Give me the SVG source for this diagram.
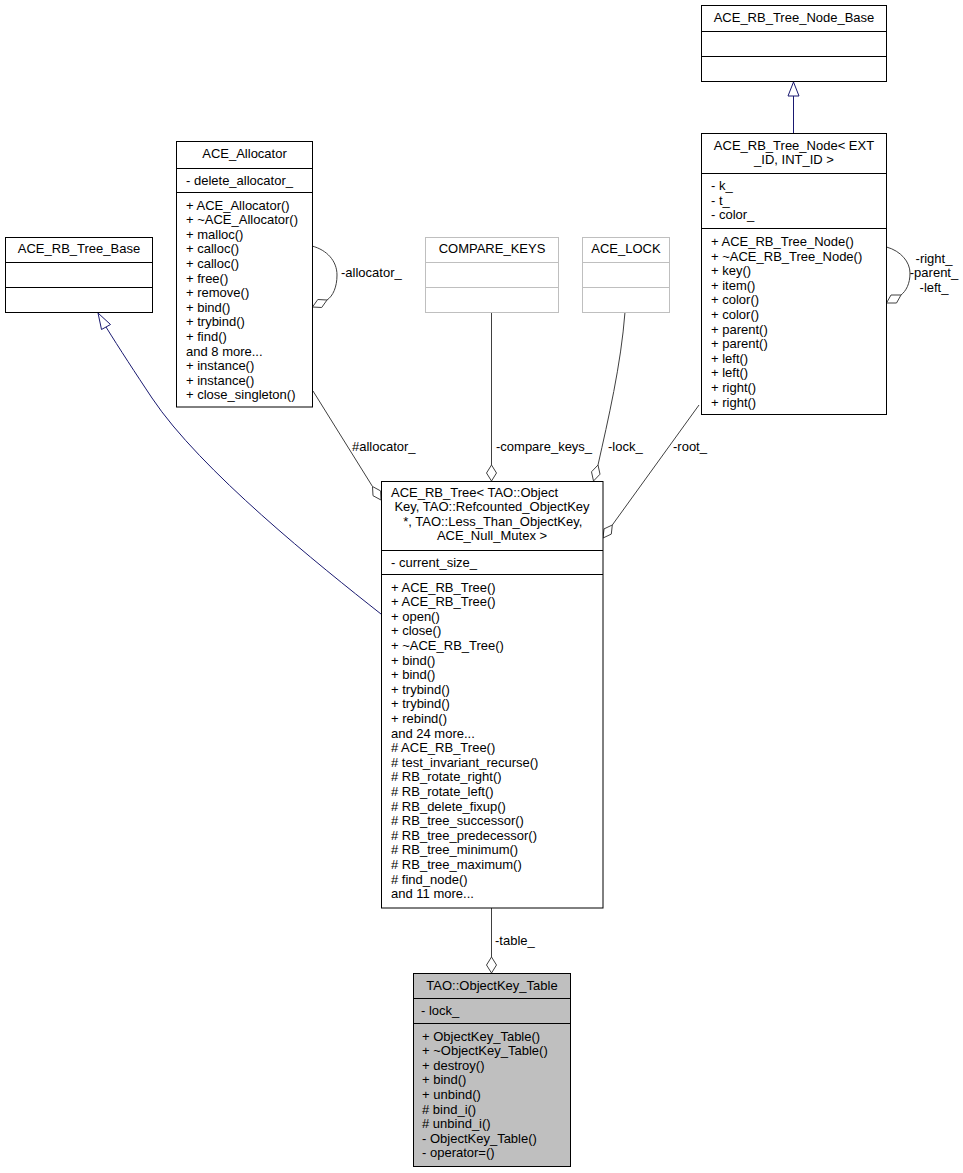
<svg xmlns="http://www.w3.org/2000/svg" width="963" height="1173" viewBox="0 0 963 1173">
<style>
text{font-family:"Liberation Sans",Arial,sans-serif;font-size:13px;fill:#000}
.c{text-anchor:middle}
.box{fill:#fff;stroke:#000;stroke-width:1}
.gbox{fill:#fff;stroke:#bfbfbf;stroke-width:1}
.hl{fill:#bfbfbf;stroke:#000;stroke-width:1}
.sep{stroke:#000;stroke-width:1}
.gsep{stroke:#bfbfbf;stroke-width:1}
.agg{fill:none;stroke:#404040;stroke-width:1}
.dia{fill:#fff;stroke:#404040;stroke-width:1}
.inh{fill:none;stroke:#191970;stroke-width:1}
.tri{fill:#fff;stroke:#191970;stroke-width:1}
</style>
<rect width="963" height="1173" fill="#fff"/>
<g id="connectors">
  <path class="inh" d="M381,614 C320,566 200,470 152,398 C136,374 119,348 106,327"/>
  <polygon class="tri" points="98,313 101.5,329.5 110.5,324.5"/>
  <path class="inh" d="M793.5,133.5 L793.5,96"/>
  <polygon class="tri" points="793.5,82 788,96 799,96"/>
  <path class="agg" d="M312,246 C327,250 337,261 337,275 C337,287 333,296 327,300"/>
  <polygon class="dia" points="312.5,307 317.8,299.5 327,300 321.7,307.5"/>
  <path class="agg" d="M886.5,247 C901,251 910,262 910,273 C910,284 906,291 901,295"/>
  <polygon class="dia" points="886.5,303 891,295 901,295 896.5,303"/>
  <path class="agg" d="M313,391 L372.5,486.5"/>
  <polygon class="dia" points="381,500 380.6,490.9 372.5,486.5 373,495.7"/>
  <path class="agg" d="M491.5,312 L491.5,465"/>
  <polygon class="dia" points="491.5,481 486.5,473 491.5,465 496.5,473"/>
  <path class="agg" d="M625,312 C621,365 608,420 598,465"/>
  <polygon class="dia" points="593.5,481 591.5,471.8 598,465 600,474.2"/>
  <path class="agg" d="M699,405 L612.3,525"/>
  <polygon class="dia" points="603,538 604,528.9 612.3,525 611.3,534.1"/>
  <path class="agg" d="M491.5,908 L491.5,957"/>
  <polygon class="dia" points="491.5,973 486.5,965 491.5,957 496.5,965"/>
  <text x="341" y="277">-allocator_</text>
  <text class="c" x="934" y="262.5">-right_</text>
  <text class="c" x="934" y="277">-parent_</text>
  <text class="c" x="934" y="291.5">-left_</text>
  <text x="352" y="451">#allocator_</text>
  <text x="496" y="451">-compare_keys_</text>
  <text x="608" y="451">-lock_</text>
  <text x="673" y="451">-root_</text>
  <text x="495" y="945">-table_</text>
</g>
<g id="ACE_RB_Tree_Node_Base">
  <rect class="box" x="701.5" y="5.5" width="185" height="76"/>
  <line class="sep" x1="701.5" y1="31.5" x2="886.5" y2="31.5"/>
  <line class="sep" x1="701.5" y1="56.5" x2="886.5" y2="56.5"/>
  <text class="c" x="794" y="22">ACE_RB_Tree_Node_Base</text>
</g>
<g id="ACE_RB_Tree_Node">
  <rect class="box" x="701.5" y="133.5" width="185" height="281"/>
  <line class="sep" x1="701.5" y1="173.5" x2="886.5" y2="173.5"/>
  <line class="sep" x1="701.5" y1="228.5" x2="886.5" y2="228.5"/>
  <text class="c" x="794" y="149.5">ACE_RB_Tree_Node&lt; EXT</text>
  <text class="c" x="794" y="164">_ID, INT_ID &gt;</text>
  <text x="711" y="190">- k_</text>
  <text x="711" y="204.6">- t_</text>
  <text x="711" y="219.2">- color_</text>
  <text x="711" y="246">+ ACE_RB_Tree_Node()</text>
  <text x="711" y="260.6">+ ~ACE_RB_Tree_Node()</text>
  <text x="711" y="275.2">+ key()</text>
  <text x="711" y="289.8">+ item()</text>
  <text x="711" y="304.4">+ color()</text>
  <text x="711" y="319">+ color()</text>
  <text x="711" y="333.6">+ parent()</text>
  <text x="711" y="348.2">+ parent()</text>
  <text x="711" y="362.8">+ left()</text>
  <text x="711" y="377.4">+ left()</text>
  <text x="711" y="392">+ right()</text>
  <text x="711" y="406.6">+ right()</text>
</g>
<g id="ACE_Allocator">
  <rect class="box" x="176.5" y="141.5" width="136" height="265.5"/>
  <line class="sep" x1="176.5" y1="168.5" x2="312.5" y2="168.5"/>
  <line class="sep" x1="176.5" y1="192.5" x2="312.5" y2="192.5"/>
  <text class="c" x="244.5" y="157.5">ACE_Allocator</text>
  <text x="186" y="184.5">- delete_allocator_</text>
  <text x="186" y="209.5">+ ACE_Allocator()</text>
  <text x="186" y="224.1">+ ~ACE_Allocator()</text>
  <text x="186" y="238.7">+ malloc()</text>
  <text x="186" y="253.3">+ calloc()</text>
  <text x="186" y="267.9">+ calloc()</text>
  <text x="186" y="282.5">+ free()</text>
  <text x="186" y="297.1">+ remove()</text>
  <text x="186" y="311.7">+ bind()</text>
  <text x="186" y="326.3">+ trybind()</text>
  <text x="186" y="340.9">+ find()</text>
  <text x="186" y="355.5">and 8 more...</text>
  <text x="186" y="370.1">+ instance()</text>
  <text x="186" y="384.7">+ instance()</text>
  <text x="186" y="399.3">+ close_singleton()</text>
</g>
<g id="ACE_RB_Tree_Base">
  <rect class="box" x="5.5" y="237.5" width="147" height="75"/>
  <line class="sep" x1="5.5" y1="262.5" x2="152.5" y2="262.5"/>
  <line class="sep" x1="5.5" y1="287.5" x2="152.5" y2="287.5"/>
  <text class="c" x="79" y="253">ACE_RB_Tree_Base</text>
</g>
<g id="COMPARE_KEYS">
  <rect class="gbox" x="425.5" y="237.5" width="133" height="75"/>
  <line class="gsep" x1="425.5" y1="262.5" x2="558.5" y2="262.5"/>
  <line class="gsep" x1="425.5" y1="287.5" x2="558.5" y2="287.5"/>
  <text class="c" x="492" y="253">COMPARE_KEYS</text>
</g>
<g id="ACE_LOCK">
  <rect class="gbox" x="582.5" y="237.5" width="87" height="75"/>
  <line class="gsep" x1="582.5" y1="262.5" x2="669.5" y2="262.5"/>
  <line class="gsep" x1="582.5" y1="287.5" x2="669.5" y2="287.5"/>
  <text class="c" x="626" y="253">ACE_LOCK</text>
</g>
<g id="ACE_RB_Tree">
  <rect class="box" x="381.5" y="481.5" width="221.5" height="426.5"/>
  <line class="sep" x1="381.5" y1="550.5" x2="603" y2="550.5"/>
  <line class="sep" x1="381.5" y1="574.5" x2="603" y2="574.5"/>
  <text x="391" y="496.5">ACE_RB_Tree&lt; TAO::Object</text>
  <text class="c" x="492" y="511.1">Key, TAO::Refcounted_ObjectKey</text>
  <text class="c" x="491" y="525.7" xml:space="preserve"> *, TAO::Less_Than_ObjectKey,</text>
  <text class="c" x="492" y="540.3">ACE_Null_Mutex &gt;</text>
  <text x="391" y="566.5">- current_size_</text>
  <text x="391" y="591.5">+ ACE_RB_Tree()</text>
  <text x="391" y="606.1">+ ACE_RB_Tree()</text>
  <text x="391" y="620.7">+ open()</text>
  <text x="391" y="635.3">+ close()</text>
  <text x="391" y="649.9">+ ~ACE_RB_Tree()</text>
  <text x="391" y="664.5">+ bind()</text>
  <text x="391" y="679.1">+ bind()</text>
  <text x="391" y="693.7">+ trybind()</text>
  <text x="391" y="708.3">+ trybind()</text>
  <text x="391" y="722.9">+ rebind()</text>
  <text x="391" y="737.5">and 24 more...</text>
  <text x="391" y="752.1"># ACE_RB_Tree()</text>
  <text x="391" y="766.7"># test_invariant_recurse()</text>
  <text x="391" y="781.3"># RB_rotate_right()</text>
  <text x="391" y="795.9"># RB_rotate_left()</text>
  <text x="391" y="810.5"># RB_delete_fixup()</text>
  <text x="391" y="825.1"># RB_tree_successor()</text>
  <text x="391" y="839.7"># RB_tree_predecessor()</text>
  <text x="391" y="854.3"># RB_tree_minimum()</text>
  <text x="391" y="868.9"># RB_tree_maximum()</text>
  <text x="391" y="883.5"># find_node()</text>
  <text x="391" y="898.1">and 11 more...</text>
</g>
<g id="TAO_ObjectKey_Table">
  <rect class="hl" x="413.5" y="973.5" width="157" height="193"/>
  <line class="sep" x1="413.5" y1="998.5" x2="570.5" y2="998.5"/>
  <line class="sep" x1="413.5" y1="1023.5" x2="570.5" y2="1023.5"/>
  <text class="c" x="492" y="989.5">TAO::ObjectKey_Table</text>
  <text x="421" y="1015">- lock_</text>
  <text x="422" y="1040.5">+ ObjectKey_Table()</text>
  <text x="422" y="1055.1">+ ~ObjectKey_Table()</text>
  <text x="422" y="1069.7">+ destroy()</text>
  <text x="422" y="1084.3">+ bind()</text>
  <text x="422" y="1098.9">+ unbind()</text>
  <text x="422" y="1113.5"># bind_i()</text>
  <text x="422" y="1128.1"># unbind_i()</text>
  <text x="422" y="1142.7">- ObjectKey_Table()</text>
  <text x="422" y="1157.3">- operator=()</text>
</g>
</svg>
